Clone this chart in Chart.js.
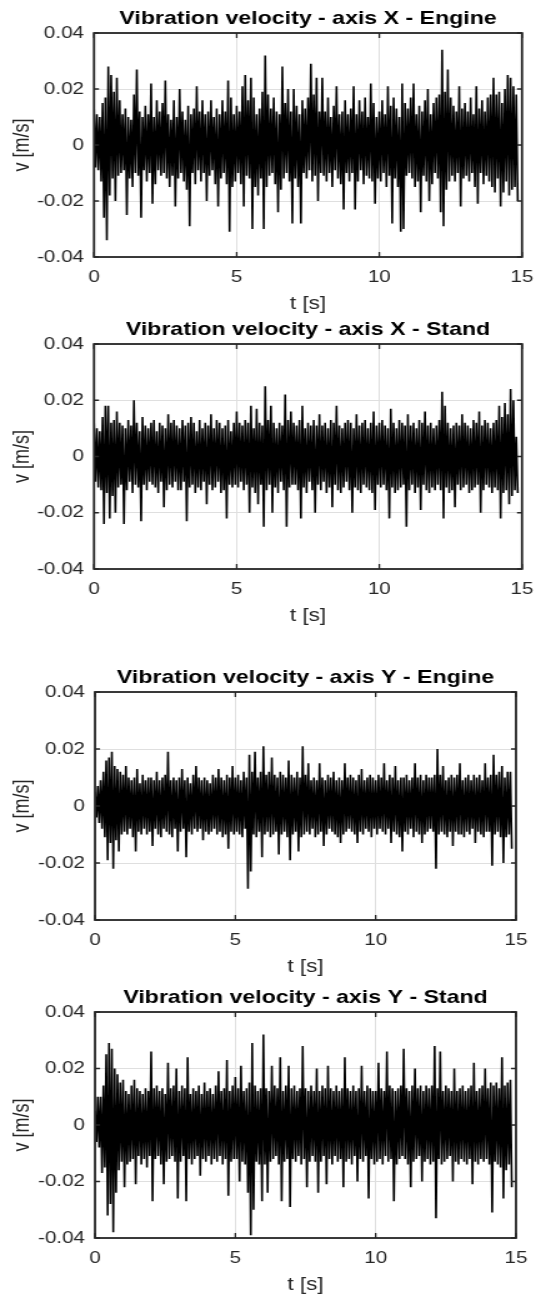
<!DOCTYPE html>
<html>
<head>
<meta charset="utf-8">
<script src="https://cdn.jsdelivr.net/npm/chart.js@4.4.1/dist/chart.umd.min.js"></script>
<style>
  html, body { margin: 0; padding: 0; background: #fff; }
  body { width: 536px; height: 1297px; position: relative; overflow: hidden; }
  /* the source figure is stretched sideways, so each panel is drawn narrow and scaled */
  .panel { position: absolute; left: 0; width: 429px; transform: scaleX(1.24942); transform-origin: 0 0; }
</style>
</head>
<body>
<div class="panel" style="top:0px;height:317px"><canvas id="c1"></canvas></div>
<div class="panel" style="top:317px;height:312px"><canvas id="c2"></canvas></div>
<div class="panel" style="top:650px;height:330px"><canvas id="c3"></canvas></div>
<div class="panel" style="top:980px;height:317px"><canvas id="c4"></canvas></div>
<script>
const dt = 0.05; // time step between the read-off peaks [s]
const xTicks = [0, 5, 10, 15];
const yTicks = [-0.04, -0.02, 0, 0.02, 0.04];
const titles = [
  'Vibration velocity - axis X - Engine',
  'Vibration velocity - axis X - Stand',
  'Vibration velocity - axis Y - Engine',
  'Vibration velocity - axis Y - Stand'
];

// alternating upper / lower peaks, in mm/s
const engineX = [
  13,-8,11,-9,10,-13,15,-26,17,-34,28,-18,25,-12,19,-20,24,-11,16,-10,
  11,-9,13,-25,10,-12,9,-15,18,-10,27,-11,12,-26,10,-9,14,-13,11,-10,
  22,-21,10,-14,16,-9,12,-11,15,-10,23,-12,11,-15,9,-11,16,-22,10,-12,
  20,-10,12,-13,9,-16,14,-29,11,-10,13,-14,21,-9,12,-13,16,-10,11,-20,
  12,-11,16,-9,10,-14,13,-22,11,-12,16,-10,12,-14,23,-31,17,-15,11,-13,
  14,-10,12,-14,21,-22,25,-11,16,-12,24,-30,17,-15,11,-18,13,-12,19,-30,
  32,-15,18,-11,13,-10,17,-14,12,-24,11,-16,28,-12,15,-10,20,-13,12,-28,
  20,-12,14,-15,11,-28,16,-10,13,-12,17,-9,29,-13,18,-11,24,-20,12,-10,
  24,-11,12,-13,17,-10,10,-15,14,-9,21,-12,11,-14,12,-23,16,-10,11,-13,
  13,-10,21,-23,11,-13,16,-9,12,-14,17,-11,10,-12,22,-13,15,-21,10,-12,
  12,-13,16,-10,11,-15,21,-11,14,-28,17,-12,13,-15,10,-31,22,-30,15,-11,
  13,-10,17,-12,22,-15,11,-13,14,-24,12,-11,16,-13,20,-20,11,-14,15,-10,
  17,-12,18,-24,34,-29,19,-16,27,-13,17,-11,14,-13,12,-10,21,-22,13,-12,
  15,-11,12,-13,17,-10,11,-15,21,-21,13,-10,16,-14,12,-11,17,-13,18,-15,
  24,-17,18,-12,19,-22,15,-17,20,-13,25,-18,24,-16,21,-15,18,-20
];
const standX = [
  12,-9,10,-11,9,-12,14,-24,18,-13,18,-22,12,-14,13,-20,16,-11,12,-10,
  11,-24,10,-12,13,-9,11,-13,20,-10,12,-11,9,-23,14,-10,11,-12,10,-9,
  12,-10,13,-11,9,-13,12,-9,11,-18,10,-12,15,-10,12,-11,13,-9,11,-12,
  10,-12,13,-9,11,-23,12,-11,14,-10,12,-13,9,-11,13,-12,10,-9,12,-17,
  11,-10,15,-12,10,-11,13,-9,12,-13,10,-12,11,-22,13,-10,9,-11,12,-10,
  16,-11,12,-9,11,-12,13,-10,12,-20,18,-11,10,-13,17,-17,12,-10,11,-25,
  25,-12,13,-10,18,-20,12,-11,10,-13,12,-9,11,-12,22,-25,13,-11,16,-10,
  12,-10,11,-12,13,-22,18,-11,10,-13,12,-9,11,-12,13,-20,11,-10,15,-12,
  11,-9,12,-13,10,-11,13,-18,12,-10,18,-12,11,-13,10,-11,12,-9,13,-12,
  12,-20,10,-11,15,-12,11,-13,12,-10,13,-11,10,-12,12,-13,16,-19,11,-10,
  12,-11,13,-10,11,-12,10,-22,17,-11,12,-13,10,-12,13,-11,12,-10,11,-25,
  15,-12,11,-10,12,-13,10,-11,13,-19,12,-10,16,-12,11,-13,12,-11,10,-12,
  11,-10,13,-12,23,-22,18,-11,12,-13,10,-12,11,-18,12,-10,11,-12,15,-11,
  12,-10,11,-13,10,-12,13,-11,12,-10,16,-20,11,-12,13,-10,12,-11,10,-13,
  12,-11,13,-12,18,-22,14,-13,19,-12,15,-17,24,-14,20,-12,7,-13
];
const engineY = [
  5,-4,7,-6,9,-8,12,-11,16,-19,17,-13,19,-22,14,-12,13,-16,12,-10,
  11,-9,14,-10,10,-8,9,-11,10,-16,13,-9,8,-10,11,-8,9,-10,10,-9,
  10,-14,9,-8,12,-10,9,-11,10,-8,11,-9,19,-10,9,-11,10,-8,9,-16,
  10,-9,13,-8,9,-18,10,-9,8,-10,11,-8,14,-9,10,-8,9,-12,10,-9,
  9,-10,8,-9,11,-8,10,-10,13,-9,10,-11,9,-10,11,-15,10,-9,14,-10,
  10,-9,11,-10,9,-11,12,-8,10,-29,18,-23,12,-10,19,-11,10,-9,12,-18,
  21,-10,11,-9,12,-11,17,-10,11,-9,10,-17,12,-10,11,-9,10,-11,16,-19,
  11,-10,10,-9,12,-16,10,-11,21,-10,11,-9,15,-10,9,-8,10,-11,9,-10,
  15,-9,10,-14,9,-10,11,-8,10,-9,12,-10,9,-11,10,-13,9,-10,15,-9,
  10,-8,11,-9,10,-10,9,-13,11,-9,13,-10,9,-8,10,-9,11,-11,10,-8,
  9,-10,11,-8,10,-9,15,-10,9,-8,11,-13,10,-9,14,-10,9,-11,10,-16,
  10,-9,11,-10,9,-8,10,-11,15,-9,10,-10,11,-13,9,-10,11,-9,10,-8,
  10,-9,11,-22,20,-10,11,-9,14,-10,9,-11,10,-9,11,-14,10,-9,11,-10,
  15,-10,9,-11,10,-9,11,-10,9,-8,11,-13,10,-9,11,-10,9,-11,15,-9,
  10,-9,11,-21,18,-10,11,-9,12,-11,14,-20,10,-11,12,-10,12,-15
];
const standY = [
  5,-6,10,-8,10,-17,14,-15,25,-32,29,-28,27,-38,20,-24,18,-16,15,-13,
  16,-22,12,-14,11,-13,14,-12,16,-21,13,-11,12,-14,11,-12,13,-15,12,-11,
  26,-27,13,-12,14,-11,12,-14,13,-21,11,-13,22,-12,13,-11,14,-13,20,-26,
  12,-13,14,-11,13,-27,24,-12,11,-14,13,-12,12,-11,14,-18,11,-12,15,-13,
  12,-11,13,-14,11,-12,14,-13,19,-11,12,-14,13,-12,23,-25,12,-13,14,-12,
  17,-12,13,-20,21,-13,12,-14,13,-24,15,-39,29,-30,14,-13,12,-14,13,-27,
  32,-14,13,-24,12,-13,21,-12,14,-11,13,-14,24,-27,12,-13,14,-12,21,-29,
  13,-12,14,-13,12,-11,13,-14,28,-12,13,-22,12,-13,14,-11,12,-13,20,-24,
  12,-13,14,-11,13,-21,21,-12,13,-14,12,-11,14,-13,12,-12,13,-22,24,-13,
  13,-12,12,-14,14,-11,12,-20,13,-12,21,-13,12,-11,14,-26,13,-12,12,-14,
  12,-13,22,-12,13,-14,12,-11,26,-13,14,-12,13,-27,12,-14,13,-12,14,-11,
  27,-12,13,-14,12,-22,14,-13,20,-12,13,-11,14,-20,12,-13,14,-12,13,-14,
  14,-13,28,-33,13,-12,26,-14,12,-13,14,-12,13,-11,12,-20,20,-13,12,-14,
  13,-12,14,-13,12,-14,13,-12,14,-21,22,-13,12,-14,13,-12,14,-13,20,-12,
  13,-14,15,-31,14,-13,15,-14,13,-15,24,-26,14,-16,15,-14,16,-22
];

const SX = 536 / 429;      // horizontal stretch of the panels
const FONT = "'Liberation Sans', Arial, Helvetica, sans-serif";
Chart.defaults.font.family = FONT;

// draws the closed axes box with inward tick marks (MATLAB look)
const boxPlugin = {
  id: 'axesBox',
  afterDraw(chart) {
    const { ctx, chartArea: a, scales: { x, y } } = chart;
    ctx.save();
    ctx.strokeStyle = '#262626';
    ctx.lineWidth = 1.3;
    ctx.beginPath();
    xTicks.forEach(v => {
      const px = x.getPixelForValue(v);
      ctx.moveTo(px, a.bottom); ctx.lineTo(px, a.bottom - 5);
      ctx.moveTo(px, a.top); ctx.lineTo(px, a.top + 5);
    });
    yTicks.forEach(v => {
      const py = y.getPixelForValue(v);
      ctx.moveTo(a.left, py); ctx.lineTo(a.left + 4, py);
      ctx.moveTo(a.right, py); ctx.lineTo(a.right - 4, py);
    });
    ctx.stroke();
    ctx.lineWidth = 1.8;
    ctx.strokeRect(a.left, a.top, a.right - a.left, a.bottom - a.top);
    ctx.restore();
  }
};

function makePanel(id, title, vals, g) {
  const xh = g.wrapTop + g.wrapH - g.bottom; // height kept for the x axis
  new Chart(document.getElementById(id), {
    type: 'line',
    data: {
      datasets: [{
        data: vals.map((v, i) => ({ x: i * dt, y: v / 1000 })),
        borderColor: '#000',
        borderWidth: 1.6,
        pointRadius: 0,
        tension: 0,
        fill: false
      }]
    },
    options: {
      animation: false,
      responsive: true,
      maintainAspectRatio: false,
      layout: { padding: { top: g.top - g.wrapTop - 23, right: 429 - g.right / SX, bottom: 0, left: 0 } },
      plugins: {
        legend: { display: false },
        tooltip: { enabled: false },
        title: {
          display: true, text: title, fullSize: false, color: '#000',
          font: { size: 18.5, weight: 'bold', lineHeight: 1 },
          padding: { top: 0, bottom: 4.5 }
        }
      },
      scales: {
        x: {
          type: 'linear', min: 0, max: 15,
          afterBuildTicks: s => { s.ticks = xTicks.map(v => ({ value: v })); },
          afterFit: s => { s.height = xh; },
          grid: { color: '#dfdfdf', drawTicks: false },
          border: { display: false },
          // no tick padding (it would widen the right margin); the tall line box moves labels down
          ticks: { padding: 0, color: '#262626', maxRotation: 0, font: { size: 16.5, lineHeight: 40 / 16.5 } },
          title: { display: true, text: 't [s]', color: '#262626', font: { size: 18, lineHeight: 1 }, padding: { top: 0, bottom: xh - 56 } }
        },
        y: {
          min: -0.04, max: 0.04,
          afterBuildTicks: s => { s.ticks = yTicks.map(v => ({ value: v })); },
          afterFit: s => { s.width = g.left / SX; },
          grid: { color: '#dfdfdf', drawTicks: false },
          border: { display: false },
          ticks: { padding: 8, color: '#262626', font: { size: 16.5, lineHeight: 1 },
                   callback: v => String(Number(v.toFixed(2))) },
          title: { display: true, text: 'v [m/s]', color: '#262626', font: { size: 18, lineHeight: 1 }, padding: { top: 23 / SX - 9, bottom: 0 } }
        }
      }
    },
    plugins: [boxPlugin]
  });
}

makePanel('c1', titles[0], engineX, { wrapTop: 0,   wrapH: 317, top: 33,   bottom: 257,  left: 94, right: 522 });
makePanel('c2', titles[1], standX,  { wrapTop: 317, wrapH: 312, top: 344,  bottom: 569,  left: 94, right: 522 });
makePanel('c3', titles[2], engineY, { wrapTop: 650, wrapH: 330, top: 692,  bottom: 920,  left: 95, right: 516 });
makePanel('c4', titles[3], standY,  { wrapTop: 980, wrapH: 317, top: 1012, bottom: 1238, left: 95, right: 516 });
</script>
</body>
</html>
